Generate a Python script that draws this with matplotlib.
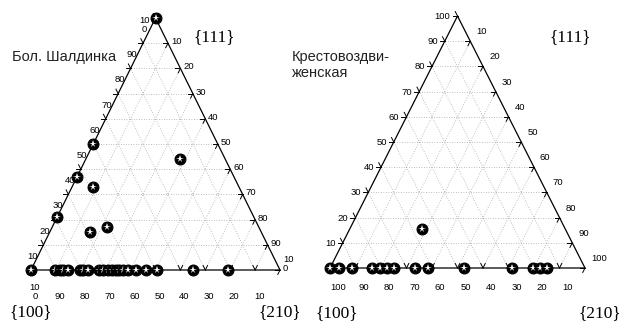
import matplotlib
matplotlib.use("Agg")
import matplotlib.pyplot as plt
import numpy as np

# ---------------------------
# Data: face fractions in %, ({100}, {210}, {111})
# ---------------------------
# Бол. Шалдинка
shal_100 = [100, 90.5, 88.5, 87, 85, 80.5, 79, 77, 72.5, 71, 69, 67.5, 66, 64.5, 63, 61,
            58, 54, 49.5, 35, 21, 50, 18, 63, 58.5, 79, 69, 61, 0]
shal_210 = [0, 9.5, 11.5, 13, 15, 19.5, 21, 23, 27.5, 29, 31, 32.5, 34, 35.5, 37, 39,
            42, 46, 50.5, 65, 79, 0, 38, 0, 8.5, 0, 16, 22, 0]
shal_111 = [0, 0, 0, 0, 0, 0, 0, 0, 0, 0, 0, 0, 0, 0, 0, 0,
            0, 0, 0, 0, 0, 50, 44, 37, 33, 21, 15, 17, 100]

# Крестовоздвиженская
krest_100 = [100, 96.5, 91.5, 83.5, 80.5, 77.5, 75, 66.5, 61.5, 47.5, 28.5, 20.5, 17.5, 15, 56]
krest_210 = [0, 3.5, 8.5, 16.5, 19.5, 22.5, 25, 33.5, 38.5, 52.5, 71.5, 79.5, 82.5, 85, 28.5]
krest_111 = [0, 0, 0, 0, 0, 0, 0, 0, 0, 0, 0, 0, 0, 0, 15.5]

tick_vals = [10, 20, 30, 40, 50, 60, 70, 80, 90, 100]
shal_left_labels = ["10", "20", "30", "40", "50", "60", "70", "80", "90", "10\n0"]
shal_right_labels = ["10", "20", "30", "40", "50", "60", "70", "80", "90", "10\n0"]
shal_bottom_labels = ["10\n0", "90", "80", "70", "60", "50", "40", "30", "20", "10"]
krest_left_labels = ["10", "20", "30", "40", "50", "60", "70", "80", "90", "100"]
krest_right_labels = ["10", "20", "30", "40", "50", "60", "70", "80", "90", "100"]
krest_bottom_labels = ["100", "90", "80", "70", "60", "50", "40", "30", "20", "10"]

W, H = 623, 331
SANS = "Liberation Sans"
SERIF = "Liberation Serif"


def fx(x, y):
    return x / W, 1 - y / H


def to_xy(a, b, c):
    a, b, c = np.asarray(a, float), np.asarray(b, float), np.asarray(c, float)
    s = a + b + c
    return (b + 0.5 * c) / s, c / s


def ternary(fig, box, a, b, c, left_lab, right_lab, bottom_lab, offs):
    x0, y0, x1, y1 = box  # pixel box of the triangle
    wpx, hpx = x1 - x0, y1 - y0
    ax = fig.add_axes([x0 / W, 1 - y1 / H, wpx / W, hpx / H])
    ax.set_xlim(0, 1)
    ax.set_ylim(0, 1)
    ax.axis("off")

    # dotted grid
    gkw = dict(color="#a8a8a8", lw=0.6, linestyle=(0, (1, 2)), zorder=1)
    for k in range(1, 10):
        f = k / 10
        ax.plot([f / 2, 1 - f / 2], [f, f], **gkw)
        ax.plot([f, f + (1 - f) / 2], [0, 1 - f], **gkw)
        ax.plot([1 - f, (1 - f) / 2], [0, 1 - f], **gkw)

    ax.plot([0, 1, 0.5, 0], [0, 0, 1, 0], color="black", lw=0.9, zorder=2, clip_on=False)

    L = 5.0
    sx, sy = 1 / wpx, 1 / hpx
    n = np.hypot(0.5 * wpx, hpx)
    ux, uy = 0.5 * wpx / n, hpx / n  # unit along slanted edges (pixels)
    tkw = dict(color="black", lw=0.7, clip_on=False, zorder=2)
    lkw = dict(textcoords="offset pixels", va="baseline", fontsize=6.8, family=SANS,
               linespacing=1.05, annotation_clip=False)
    for v, ll, rl, bl in zip(tick_vals, left_lab, right_lab, bottom_lab):
        f = v / 100
        # left axis ({111})
        px_, py_ = f / 2, f
        ax.plot([px_, px_ - L * sx], [py_, py_], **tkw)
        ax.plot([px_, px_ - L * ux * sx], [py_, py_ + L * uy * sy], **tkw)
        ax.annotate(ll, (px_, py_), xytext=offs["left"][:2], ha=offs["left"][2], **lkw)
        # right axis ({210})
        px_, py_ = 1 - (1 - f) / 2, 1 - f
        ax.plot([px_, px_ - L * sx], [py_, py_], **tkw)
        ax.plot([px_, px_ - L * ux * sx], [py_, py_ - L * uy * sy], **tkw)
        ax.annotate(rl, (px_, py_), xytext=offs["right"][:2], ha=offs["right"][2], **lkw)
        # bottom axis ({100})
        px_, py_ = f - 0.1, 0
        if 0 < px_ < 1:
            ax.plot([px_, px_ - L * ux * sx], [0, L * uy * sy], **tkw)
            ax.plot([px_, px_ + L * ux * sx], [0, L * uy * sy], **tkw)
        ax.annotate(bl, (px_, py_), xytext=offs["bottom"][:2], ha=offs["bottom"][2], **lkw)

    xs, ys = to_xy(a, b, c)
    for xp, yp in zip(xs, ys):
        ax.plot(xp, yp, "o", ms=7.8, mfc="black", mec="black", mew=0.8,
                clip_on=False, zorder=5)
        ax.plot(xp, yp, "*", ms=5.5, color="white", mew=0, clip_on=False, zorder=5)
    return ax


fig = plt.figure(figsize=(W / 100, H / 100), dpi=100)

ternary(fig, (31, 18, 280, 270), shal_100, shal_210, shal_111,
        shal_left_labels, shal_right_labels, shal_bottom_labels,
        {"left": (-11, -14, "center"), "right": (3, -1, "left"), "bottom": (4, -29, "center")})
ternary(fig, (330, 16, 585, 268), krest_100, krest_210, krest_111,
        krest_left_labels, krest_right_labels, krest_bottom_labels,
        {"left": (-7, -3, "right"), "right": (6, 7, "left"), "bottom": (8, -22, "center")})

# titles
fig.text(*fx(12, 57), "Бол. Шалдинка", ha="left", va="center", fontsize=10.5,
         family=SANS, color="#222222")
fig.text(*fx(292, 65), "Крестовоздви-\nженская", ha="left", va="center", fontsize=10.5,
         family=SANS, linespacing=1.1, color="#222222")

# corner face labels
for (xp, yp), s, ha in [((214, 37), "{111}", "center"), ((31, 312), "{100}", "center"),
                        ((280, 312), "{210}", "center"), ((570, 37), "{111}", "center"),
                        ((337, 313), "{100}", "center"), ((621, 313), "{210}", "right")]:
    fig.text(*fx(xp, yp), s, ha=ha, va="center", fontsize=12.5, family=SERIF)

fig.savefig("out.png", dpi=100)
